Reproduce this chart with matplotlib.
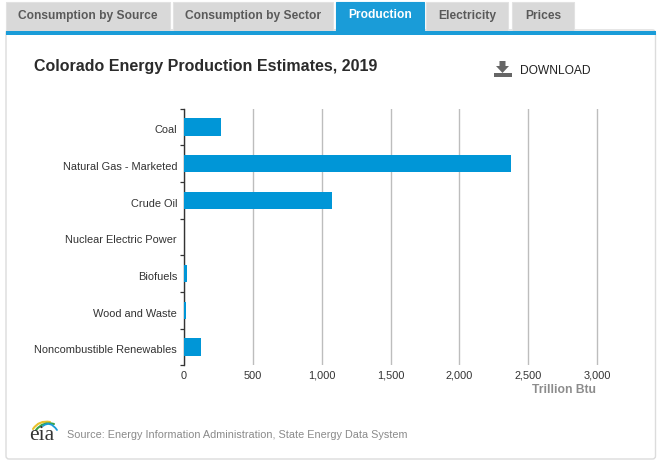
import matplotlib
matplotlib.use("Agg")
import matplotlib.pyplot as plt
from matplotlib.patches import Rectangle, FancyBboxPatch, Polygon, PathPatch
from matplotlib.path import Path

categories = ["Coal", "Natural Gas - Marketed", "Crude Oil", "Nuclear Electric Power",
              "Biofuels", "Wood and Waste", "Noncombustible Renewables"]
production = [268, 2372, 1072, 0, 20, 11, 127]
x_ticks = [0, 500, 1000, 1500, 2000, 2500, 3000]
tab_labels = ["Consumption by Source", "Consumption by Sector", "Production", "Electricity", "Prices"]
tab_lefts = [6, 173, 336, 426, 512]
tab_rights = [170, 333, 424, 508, 574]

W, H = 663, 463
plt.rcParams["font.family"] = ["Liberation Sans", "DejaVu Sans"]
fig = plt.figure(figsize=(W / 100, H / 100), dpi=100, facecolor="white")
bg = fig.add_axes([0, 0, 1, 1], zorder=0)
bg.set_xlim(0, W); bg.set_ylim(H, 0); bg.axis("off")

# Card and tabs
bg.add_patch(FancyBboxPatch((6, 30), 649.5, 429, boxstyle="round,pad=0,rounding_size=3",
                            fc="white", ec="#dcdcdc", lw=1))
for lab, l, r in zip(tab_labels, tab_lefts, tab_rights):
    active = lab == "Production"
    bg.add_patch(Rectangle((l, 2), r - l, 29, fc="#1a9cd8" if active else "#d9d9d9",
                           ec="#1a9cd8" if active else "#e2e2e2", lw=0.8))
    bg.text((l + r) / 2, 15 if active else 16, lab, ha="center", va="center", fontsize=8.65,
            fontweight="bold", color="white" if active else "#5a5a5a")
bg.add_patch(Rectangle((6, 31), 650, 4, fc="#1a9cd8", ec="none"))

# Title and download
bg.text(34, 66, "Colorado Energy Production Estimates, 2019", fontsize=11.55, fontweight="bold",
        color="#2b2b2b", va="center", ha="left")
bg.add_patch(Rectangle((493.5, 72.5), 18, 4.5, fc="#666666", ec="none"))
bg.add_patch(Polygon([[499.5, 61], [505.5, 61], [505.5, 66], [509, 66], [502.5, 73], [496, 66], [499.5, 66]],
                     fc="#666666", ec="none"))
bg.text(520, 70.5, "DOWNLOAD", fontsize=8.65, color="#222222", va="center", ha="left")

# Chart
left, right, top, bottom = 184, 610, 108.7, 365.3
px_per_unit = (597 - left) / 3000
ax = fig.add_axes([left / W, 1 - bottom / H, (right - left) / W, (bottom - top) / H], zorder=2)
ax.patch.set_alpha(0)
ys = list(range(len(categories)))
ax.barh(ys, production, height=0.47, color="#0096d7", zorder=3)
ax.set_ylim(len(categories) - 0.5, -0.5)
ax.set_xlim(0, (right - left) / px_per_unit)
ax.set_xticks(x_ticks)
ax.set_xticklabels([f"{v:,}" for v in x_ticks], fontsize=7.9, color="#333333")
ax.set_yticks([i - 0.5 for i in range(len(categories) + 1)], minor=True)
# zero-length major ticks sit slightly below the bar centres, as the labels do in the reference
ax.set_yticks([y + 0.06 for y in ys])
ax.set_yticklabels(categories, fontsize=7.9, color="#333333")
ax.tick_params(axis="y", which="major", length=0, pad=5)
ax.tick_params(axis="y", which="minor", length=3.2, width=0.9, color="#333333")
ax.tick_params(axis="x", length=0, pad=4)
ax.xaxis.grid(True, color="#bdbdbd", lw=1, zorder=0)
ax.set_axisbelow(True)
for s in ["top", "right", "bottom"]:
    ax.spines[s].set_visible(False)
ax.spines["left"].set_color("#333333")
ax.spines["left"].set_linewidth(1)
bg.text(596, 390, "Trillion Btu", fontsize=8.7, fontweight="bold", color="#8c8c8c", ha="right", va="center")

# Logo and source
def swoosh(p0, c, p1, color, lw):
    bg.add_patch(PathPatch(Path([p0, c, p1], [Path.MOVETO, Path.CURVE3, Path.CURVE3]),
                           fc="none", ec=color, lw=lw, capstyle="round"))
swoosh((33, 429), (39, 420), (50, 422), "#e9c12c", 1.5)
swoosh((36, 430), (43, 421), (54, 424), "#3aa34a", 1.5)
swoosh((43, 426), (50, 420), (57, 430), "#1a9cd8", 1.3)
bg.text(41.5, 436, "eia", fontsize=15.5, family=["Liberation Serif"], color="#333333", ha="center", va="center")
bg.text(67, 434.5, "Source: Energy Information Administration, State Energy Data System",
        fontsize=7.85, color="#8a8a8a", ha="left", va="center")

fig.savefig("out.png", dpi=100)
